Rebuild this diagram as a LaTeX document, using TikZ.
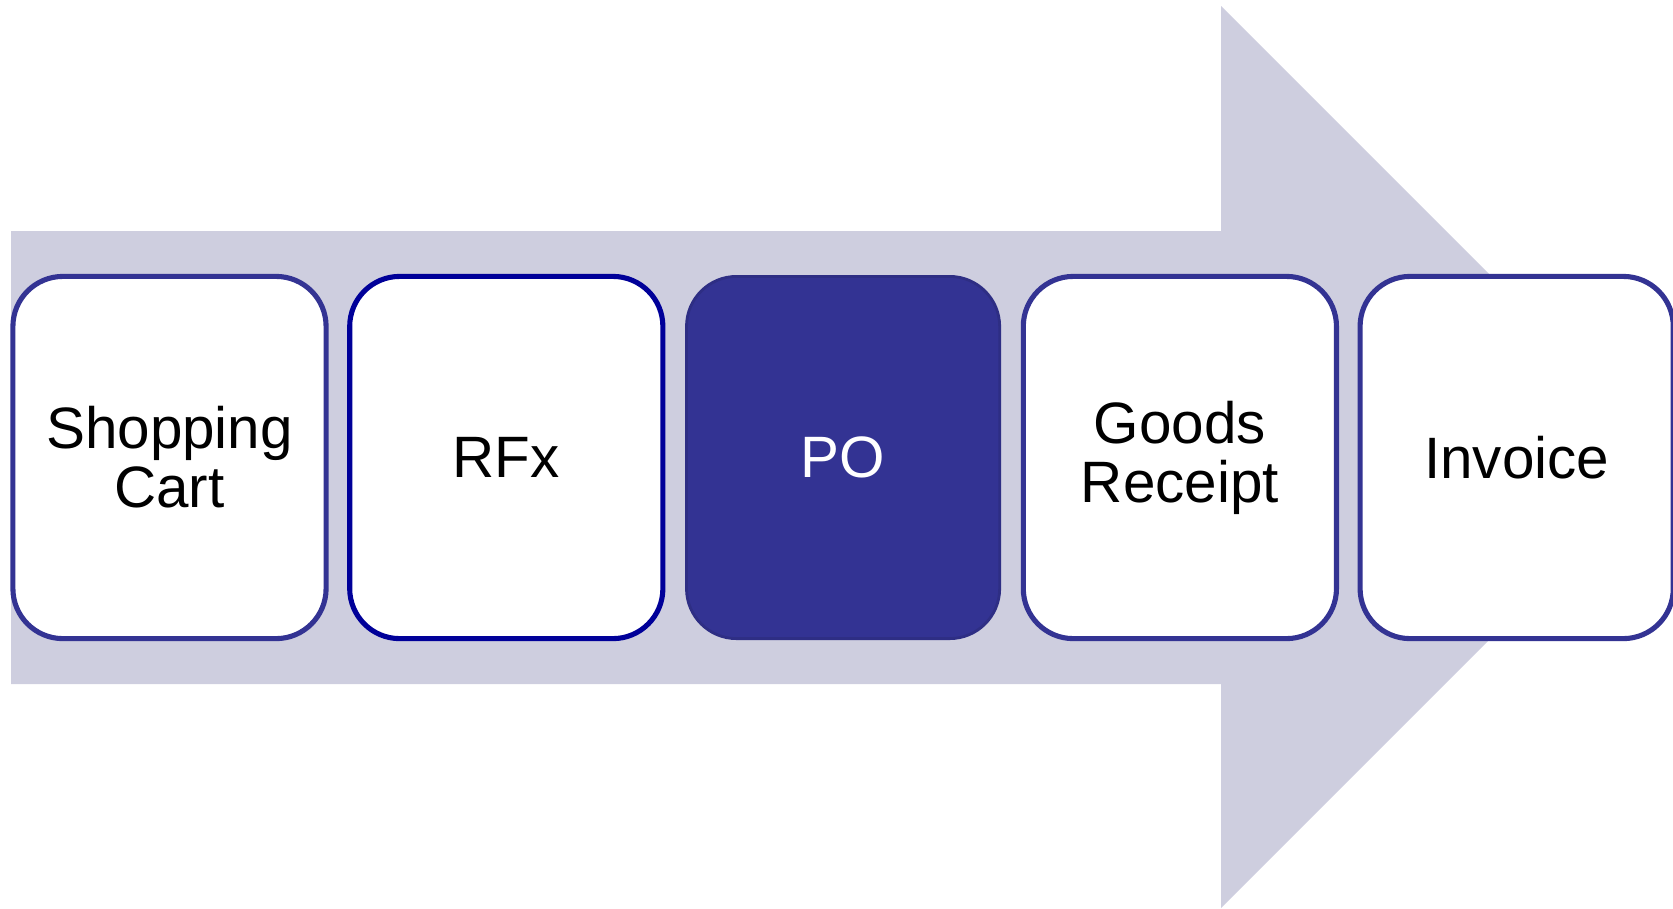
\documentclass[tikz,border=0pt]{standalone}
\usepackage{fontspec}
\setmainfont{Liberation Sans}
\usetikzlibrary{positioning}

\definecolor{arrowgrey}{RGB}{206,206,223}
\definecolor{stepblue}{RGB}{51,51,147}
\definecolor{darkblue}{RGB}{0,0,153}

\tikzset{
  stepbox/.style={draw=stepblue, line width=1.45pt, outer sep=0.725pt, fill=white,
    rounded corners=0.5cm, minimum width=3.13cm, minimum height=3.62cm,
    align=center, inner sep=0pt, font=\fontsize{16.6}{16.8}\selectfont},
}

\begin{document}
\begin{tikzpicture}[x=0.01cm, y=-0.01cm, node distance=0.185cm]
  \useasboundingbox (0,0) rectangle (1673,908);
  % big process arrow behind the steps
  \fill[arrowgrey] (11,231) -- (1221,231) -- (1221,6) -- (1672,457)
    -- (1221,908) -- (1221,684) -- (11,684) -- cycle;

  \node[stepbox] (cart) at (169.5,457.5) {Shopping\\Cart};
  \node[stepbox, draw=darkblue, right=of cart] (rfx) {RFx};
  \node[stepbox, fill=stepblue, draw=stepblue!90!black, line width=0.8pt,
    text=white, right=of rfx] (po) {PO};
  \node[stepbox, right=of po] (gr) {Goods\\Receipt};
  \node[stepbox, right=of gr] (inv) {Invoice};
\end{tikzpicture}
\end{document}
